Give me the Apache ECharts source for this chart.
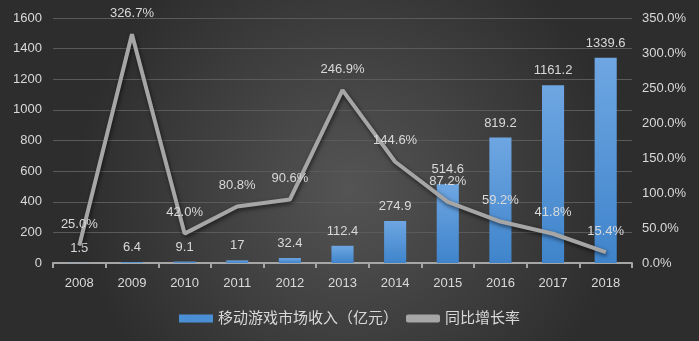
<!DOCTYPE html>
<html><head><meta charset="utf-8">
<script src="https://cdn.jsdelivr.net/npm/echarts@6/dist/echarts.min.js"></script>
<style>html,body{margin:0;padding:0;background:#333;}#c{width:699px;height:341px;}</style>
</head><body><div id="c"></div>
<script>
const years = ['2008','2009','2010','2011','2012','2013','2014','2015','2016','2017','2018'];
const revenue = [1.5, 6.4, 9.1, 17, 32.4, 112.4, 274.9, 514.6, 819.2, 1161.2, 1339.6];
const growth = [25.0, 326.7, 42.0, 80.8, 90.6, 246.9, 144.6, 87.2, 59.2, 41.8, 15.4];
const revenueName = '移动游戏市场收入（亿元）';
const growthName = '同比增长率';

const font = 'Liberation Sans, DejaVu Sans, Noto Sans CJK SC';
const txt = '#d9d9d9';
const chart = echarts.init(document.getElementById('c'));
chart.setOption({
  backgroundColor: {
    type: 'radial', x: 0.5, y: 0.55, r: 0.8,
    colorStops: [{offset: 0, color: '#545454'}, {offset: 1, color: '#2d2d2d'}]
  },
  textStyle: {fontFamily: font},
  animation: false,
  grid: {left: 53, right: 67, top: 18, bottom: 78},
  legend: {
    bottom: 10, left: 'center', itemGap: 8,
    textStyle: {color: txt, fontSize: 15, fontFamily: font},
    data: [
      {name: revenueName, icon: 'rect', itemStyle: {color: '#4a8fd6'}},
      {name: growthName, icon: 'roundRect', itemStyle: {color: '#a6a6a6'}}
    ],
    itemWidth: 34, itemHeight: 8
  },
  xAxis: {
    type: 'category', data: years, boundaryGap: true,
    axisLine: {lineStyle: {color: '#a6a6a6', width: 2}},
    axisTick: {show: true, length: 5, lineStyle: {color: '#a6a6a6', width: 2}},
    axisLabel: {color: txt, fontSize: 13, margin: 14}
  },
  yAxis: [
    {type: 'value', min: 0, max: 1600, interval: 200,
     axisLabel: {color: txt, fontSize: 13, margin: 11, formatter: v => String(v)},
     axisLine: {show: false}, axisTick: {show: false},
     splitLine: {lineStyle: {color: '#5a5a5a', width: 1}}},
    {type: 'value', min: 0, max: 350, interval: 50,
     axisLabel: {color: txt, fontSize: 13, margin: 10, formatter: v => v.toFixed(1) + '%'},
     axisLine: {show: false}, axisTick: {show: false}, splitLine: {show: false}}
  ],
  series: [
    {name: revenueName, type: 'bar', data: revenue, barWidth: '42%', yAxisIndex: 0,
     itemStyle: {color: {type: 'linear', x: 0, y: 0, x2: 0, y2: 1,
       colorStops: [{offset: 0, color: '#6ea6e2'}, {offset: 1, color: '#3f84cb'}]}},
     label: {show: true, position: 'top', distance: 8, color: txt, fontSize: 13,
       formatter: p => String(p.value)}},
    {name: growthName, type: 'line', data: growth, yAxisIndex: 1,
     symbol: 'circle', symbolSize: 1, showSymbol: true,
     lineStyle: {color: '#a6a6a6', width: 4, shadowColor: 'rgba(0,0,0,0.6)', shadowBlur: 4, shadowOffsetX: 1, shadowOffsetY: 2},
     itemStyle: {color: '#a6a6a6'},
     labelLayout: {hideOverlap: false},
     label: {show: true, position: 'top', distance: 14, color: txt, fontSize: 13,
       formatter: p => p.value.toFixed(1) + '%'}}
  ]
});
</script></body></html>
